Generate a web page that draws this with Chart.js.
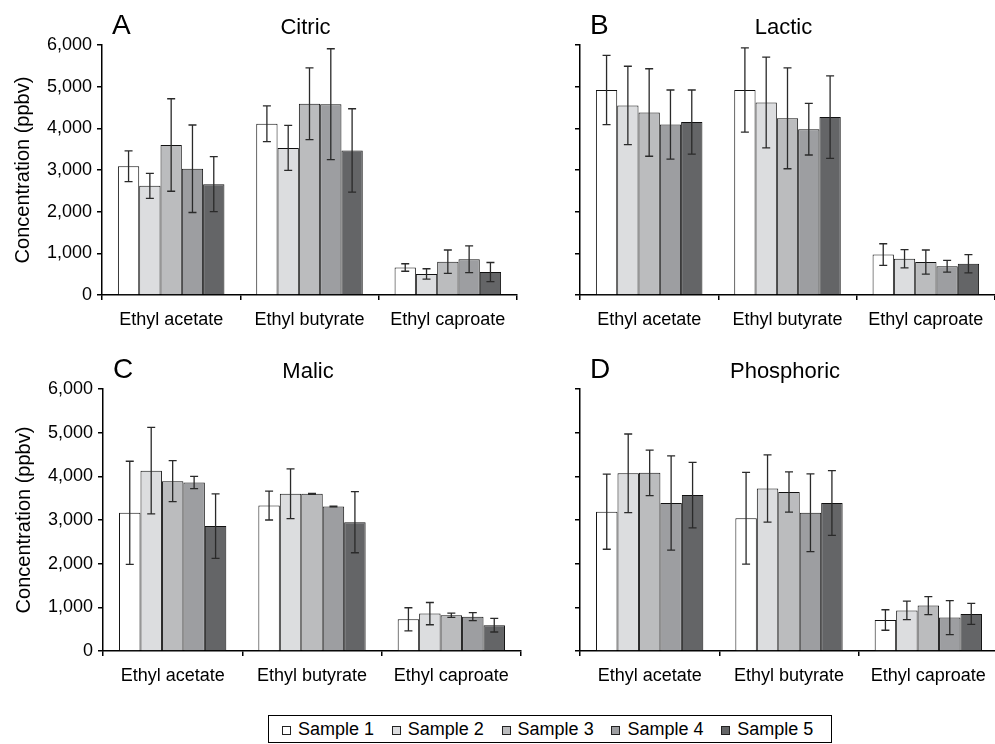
<!DOCTYPE html>
<html>
<head>
<meta charset="utf-8">
<script src="https://cdn.jsdelivr.net/npm/chart.js@4.4.0/dist/chart.umd.min.js"></script>
<style>
    body { margin: 0; width: 995px; height: 744px; overflow: hidden; background: #fff; position: relative; font-family: "Liberation Sans", Arial, sans-serif; }
    canvas { position: absolute; }
    #legend { position: absolute; left: 268px; top: 715px; width: 564px; height: 28px; border: 1px solid #000; display: flex; align-items: center; padding-left: 13px; box-sizing: border-box; }
    .item { width: 113px; display: flex; align-items: center; font-size: 18px; color: #000; }
    .swatch { width: 7px; height: 7px; border: 1px solid #222; margin-right: 7px; margin-top: 3px; }
</style>
</head>
<body>
<canvas id="chartA"></canvas>
<canvas id="chartB"></canvas>
<canvas id="chartC"></canvas>
<canvas id="chartD"></canvas>
<div id="legend"></div>
<script>
const compounds = ['Ethyl acetate', 'Ethyl butyrate', 'Ethyl caproate'];
const sampleNames = ['Sample 1', 'Sample 2', 'Sample 3', 'Sample 4', 'Sample 5'];
const sampleColors = ['#ffffff', '#dcdddf', '#bbbcbe', '#9d9ea1', '#646567'];
const yTicks = [0, 1000, 2000, 3000, 4000, 5000, 6000];

// one row per sample, values for the three compounds (ppbv)
const citricMean = [[3090, 4110, 660], [2620, 3530, 505], [3600, 4590, 800], [3030, 4580, 857], [2660, 3470, 550]];
const citricErr = [[370, 430, 90], [300, 540, 125], [1110, 860, 280], [1050, 1330, 320], [660, 1000, 230]];

const lacticMean = [[4920, 4920, 970], [4550, 4620, 870], [4380, 4240, 790], [4090, 3980, 690], [4150, 4270, 750]];
const lacticErr = [[830, 1010, 260], [940, 1090, 220], [1050, 1210, 290], [830, 620, 140], [770, 990, 220]];

const malicMean = [[3165, 3330, 726], [4130, 3600, 856], [3890, 3600, 818], [3860, 3310, 787], [2860, 2950, 590]];
const malicErr = [[1180, 330, 265], [990, 570, 255], [470, 10, 50], [140, 10, 90], [740, 700, 155]];

const phosphoricMean = [[3190, 3040, 710], [4070, 3720, 930], [4080, 3640, 1040], [3390, 3165, 765], [3570, 3390, 850]];
const phosphoricErr = [[860, 1050, 235], [900, 770, 210], [520, 460, 205], [1080, 890, 390], [750, 740, 240]];

const FONT = '"Liberation Sans", Arial, sans-serif';

// panel letter and acid name above the plot
const panelTitles = {
    id: 'panelTitles',
    afterDraw(chart, args, opts) {
        const ctx = chart.ctx;
        const area = chart.chartArea;
        ctx.save();
        ctx.fillStyle = '#000';
        ctx.textBaseline = 'alphabetic';
        ctx.textAlign = 'left';
        ctx.font = '28px ' + FONT;
        ctx.fillText(opts.letter, area.left + 10, area.top - 11);
        ctx.textAlign = 'center';
        ctx.font = '22px ' + FONT;
        ctx.fillText(opts.title, (area.left + area.right) / 2 - 4, area.top - 11);
        ctx.restore();
    }
};

// +/- error bars with caps
const errorBars = {
    id: 'errorBars',
    afterDatasetsDraw(chart) {
        const ctx = chart.ctx;
        const y = chart.scales.y;
        ctx.save();
        ctx.strokeStyle = '#2a2a2a';
        ctx.lineWidth = 1.3;
        chart.data.datasets.forEach((ds, i) => {
            const meta = chart.getDatasetMeta(i);
            meta.data.forEach((bar, j) => {
                const v = ds.data[j];
                const e = ds.errors[j];
                const top = y.getPixelForValue(v + e);
                const bot = y.getPixelForValue(Math.max(v - e, 0));
                const x = bar.x;
                ctx.beginPath();
                ctx.moveTo(x, top);
                ctx.lineTo(x, bot);
                ctx.moveTo(x - 4, top);
                ctx.lineTo(x + 4, top);
                ctx.moveTo(x - 4, bot);
                ctx.lineTo(x + 4, bot);
                ctx.stroke();
            });
        });
        ctx.restore();
    }
};

function makePanel(id, box, letter, title, means, errs, showLabels) {
    const canvas = document.getElementById(id);
    canvas.width = box.w;
    canvas.height = box.h;
    canvas.style.left = box.x + 'px';
    canvas.style.top = box.y + 'px';

    const datasets = sampleNames.map((name, i) => ({
        label: name,
        data: means[i],
        errors: errs[i],
        backgroundColor: sampleColors[i],
        borderColor: '#111',
        borderWidth: 1,
        barPercentage: 1.0,
        categoryPercentage: 0.77
    }));

    new Chart(canvas.getContext('2d'), {
        type: 'bar',
        data: { labels: compounds, datasets },
        options: {
            responsive: false,
            animation: false,
            layout: { padding: { top: 45, right: 3, left: 0, bottom: 0 } },
            plugins: {
                legend: { display: false },
                tooltip: { enabled: false },
                panelTitles: { letter, title }
            },
            scales: {
                x: {
                    grid: { offset: true, drawOnChartArea: false, drawTicks: true, tickLength: 5, color: '#000', lineWidth: 1.5 },
                    border: { display: true, color: '#000', width: 1.5 },
                    ticks: { color: '#000', font: { family: FONT, size: 18 }, padding: 9, maxRotation: 0, autoSkip: false },
                    afterFit(scale) { scale.height = 45; }
                },
                y: {
                    min: 0,
                    max: 6000,
                    afterBuildTicks(scale) { scale.ticks = yTicks.map(v => ({ value: v })); },
                    grid: { drawOnChartArea: false, drawTicks: true, tickLength: 5, color: '#000', lineWidth: 1.5 },
                    border: { display: true, color: '#000', width: 1.5 },
                    ticks: {
                        display: showLabels,
                        color: '#000',
                        padding: 5,
                        font: { family: FONT, size: 18 },
                        callback: v => v.toLocaleString('en-US')
                    },
                    title: {
                        display: showLabels,
                        text: 'Concentration (ppbv)',
                        color: '#000',
                        font: { family: FONT, size: 20 },
                        padding: { top: 11, bottom: 0 }
                    },
                    afterFit(scale) { scale.width = 102; }
                }
            }
        },
        plugins: [errorBars, panelTitles]
    });
}

makePanel('chartA', { x: 0, y: 0, w: 520, h: 340 }, 'A', 'Citric', citricMean, citricErr, true);
makePanel('chartB', { x: 478, y: 0, w: 520, h: 340 }, 'B', 'Lactic', lacticMean, lacticErr, false);
makePanel('chartC', { x: 1, y: 344, w: 523, h: 352 }, 'C', 'Malic', malicMean, malicErr, true);
makePanel('chartD', { x: 478, y: 344, w: 523, h: 352 }, 'D', 'Phosphoric', phosphoricMean, phosphoricErr, false);

// legend from the same sample arrays
const legend = document.getElementById('legend');
sampleNames.forEach((name, i) => {
    const item = document.createElement('div');
    item.className = 'item';
    const sw = document.createElement('span');
    sw.className = 'swatch';
    sw.style.background = sampleColors[i];
    const label = document.createElement('span');
    label.textContent = name;
    item.appendChild(sw);
    item.appendChild(label);
    legend.appendChild(item);
});
</script>
</body>
</html>
